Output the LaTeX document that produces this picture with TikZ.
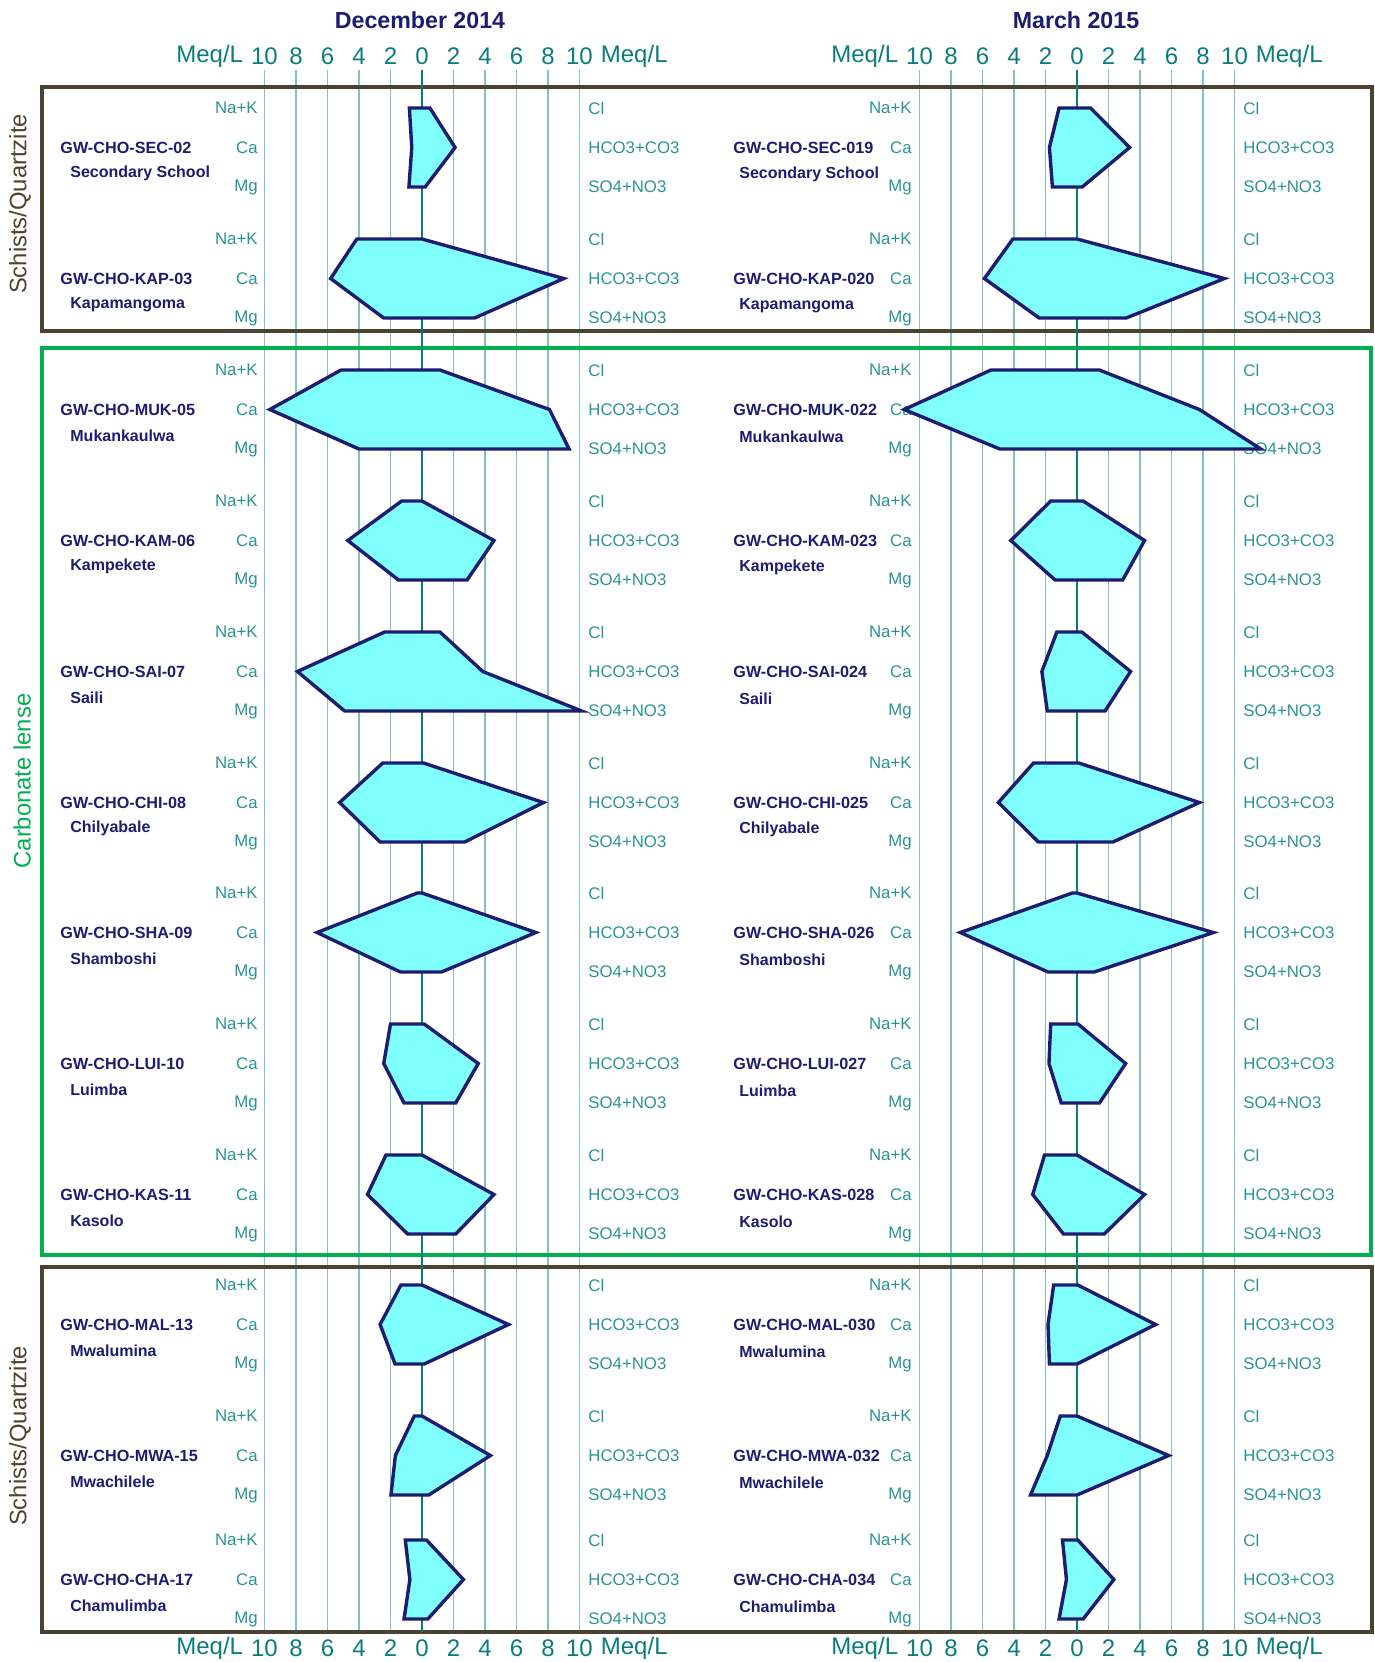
\documentclass[tikz,border=0pt]{standalone}
\usepackage{fontspec}
\setmainfont{Liberation Sans}
\usetikzlibrary{positioning}
\definecolor{stiffnavy}{HTML}{1C1C73}
\definecolor{stiffcyan}{HTML}{80FFFF}
\definecolor{stiffgrid}{HTML}{84C2C2}
\definecolor{stiffaxis}{HTML}{0A7C7C}
\definecolor{stiffteal}{HTML}{2A9494}
\definecolor{stiffbrown}{HTML}{4B4232}
\definecolor{stiffgreen}{HTML}{00B050}

\begin{document}
\begin{tikzpicture}[
    x=0.5pt, y=-0.5pt,
    gridline/.style={draw=stiffgrid, line width=0.6pt},
    zeroline/.style={draw=stiffaxis, line width=1.4pt},
    unitbox/.style={draw=stiffbrown, line width=2pt},
    lensebox/.style={draw=stiffgreen, line width=1.6pt},
    ion/.style={text=stiffteal, font=\fontsize{8.4}{10}\selectfont, inner sep=0pt},
    scalenum/.style={text=stiffaxis, font=\fontsize{12}{14}\selectfont, inner sep=0pt},
    wellid/.style={text=stiffnavy, font=\bfseries\fontsize{8.1}{10}\selectfont, anchor=west, inner sep=0pt},
    sitename/.style={text=stiffnavy, font=\bfseries\fontsize{8}{10}\selectfont, anchor=west, inner sep=0pt},
    charttitle/.style={text=stiffnavy, font=\bfseries\fontsize{11.6}{14}\selectfont},
    unitlabel/.style={rotate=90, font=\fontsize{11.9}{14}\selectfont, inner sep=0pt},
    stiffpoly/.style={draw=stiffnavy, fill=stiffcyan, line width=1.7pt, line join=miter}
]
\useasboundingbox (0,0) rectangle (1375,1662);

% grid of both charts
\foreach \cx in {422,1077} {
  \foreach \k in {-5,...,5}
    \draw[gridline] ({\cx+\k*31.5},70) -- ({\cx+\k*31.5},1632);
}

% rock units
\draw[unitbox] (42,87) rectangle (1372,331);
\draw[lensebox] (42,348) rectangle (1371,1255);
\draw[unitbox] (42,1267) rectangle (1372,1632);

\draw[zeroline] (422,70) -- (422,1632);
\draw[zeroline] (1077,70) -- (1077,1632);

\node[unitlabel, text=stiffbrown] (schists-top) at (20,204) {Schists/Quartzite};
\node[unitlabel, text=stiffgreen] (lense) at (22,781) {Carbonate lense};
\node[unitlabel, text=stiffbrown] (schists-bot) at (20,1436) {Schists/Quartzite};

% titles and scales
\node[charttitle] (dec-title) at (420,20) {December 2014};
\node[charttitle] (mar-title) at (1076,20) {March 2015};
\foreach \cx/\ch in {422/dec,1077/mar} {
  \foreach \ys/\pos in {56/top,1648/bot} {
    \foreach \v [count=\k from 0] in {10,8,6,4,2,0,2,4,6,8,10}
      \node[scalenum] (\ch-\pos-\k) at ({\cx+(\k-5)*31.5},\ys) {\v};
    \node[scalenum, anchor=east] (\ch-\pos-ul) at ({\cx-178.5},\ys) {Meq/L};
    \node[scalenum, anchor=west] (\ch-\pos-ur) at ({\cx+178.5},\ys) {Meq/L};
  }
}

% December 2014
\foreach \y/\nk/\ca/\mg/\cl/\hc/\so/\wid/\wsite [count=\i] in {
    108/0.8/0.65/0.83/0.5/2.1/0.2/GW-CHO-SEC-02/Secondary School,
    239/4.14/5.8/2.43/0/9.0/3.34/GW-CHO-KAP-03/Kapamangoma,
    370/5.14/9.66/4.0/1.14/8.09/9.34/GW-CHO-MUK-05/Mukankaulwa,
    501/1.29/4.71/1.49/0/4.57/2.86/GW-CHO-KAM-06/Kampekete,
    632/2.37/7.91/4.91/1.14/3.86/10.14/GW-CHO-SAI-07/Saili,
    763/2.49/5.23/2.66/0.09/7.71/2.71/GW-CHO-CHI-08/Chilyabale,
    893/0.3/6.66/1.37/0/7.23/1.23/GW-CHO-SHA-09/Shamboshi,
    1024/2.0/2.43/1.14/0.14/3.57/2.14/GW-CHO-LUI-10/Luimba,
    1155/2.29/3.46/0.91/0/4.57/2.14/GW-CHO-KAS-11/Kasolo,
    1285/1.34/2.66/1.71/0/5.49/0.14/GW-CHO-MAL-13/Mwalumina,
    1416/0.49/1.69/1.97/0/4.34/0.43/GW-CHO-MWA-15/Mwachilele,
    1540/1.06/0.77/1.14/0.29/2.63/0.37/GW-CHO-CHA-17/Chamulimba} {
  \node[ion, anchor=east] (dec-nk-\i) at (258,\y) {Na+K};
  \node[ion, anchor=east] (dec-ca-\i) at (258,{\y+39.5}) {Ca};
  \node[ion, anchor=east] (dec-mg-\i) at (258,{\y+79}) {Mg};
  \node[ion, anchor=west] (dec-cl-\i) at (588,\y) {Cl};
  \node[ion, anchor=west] (dec-hc-\i) at (588,{\y+39.5}) {HCO3+CO3};
  \node[ion, anchor=west] (dec-so-\i) at (588,{\y+79}) {SO4+NO3};
  \node[wellid] (dec-id-\i) at (60,{\y+39.5}) {\wid};
  \node[sitename] (dec-site-\i) at (70,{\y+65.5}) {\wsite};
  \draw[stiffpoly] ({422-\nk*15.75},\y) -- ({422-\ca*15.75},{\y+39.5})
    -- ({422-\mg*15.75},{\y+79}) -- ({422+\so*15.75},{\y+79})
    -- ({422+\hc*15.75},{\y+39.5}) -- ({422+\cl*15.75},\y) -- cycle;
}

% March 2015
\foreach \y/\nk/\ca/\mg/\cl/\hc/\so/\wid/\wsite [count=\i] in {
    108/1.14/1.75/1.56/0.86/3.34/0.33/GW-CHO-SEC-019/Secondary School,
    239/4.07/5.88/2.4/0/9.36/3.12/GW-CHO-KAP-020/Kapamangoma,
    370/5.46/10.97/4.9/1.42/7.77/11.67/GW-CHO-MUK-022/Mukankaulwa,
    501/1.67/4.2/1.39/0.39/4.29/2.9/GW-CHO-KAM-023/Kampekete,
    632/1.28/2.23/1.89/0.31/3.4/1.78/GW-CHO-SAI-024/Saili,
    763/2.76/4.99/2.45/0.11/7.77/2.28/GW-CHO-CHI-025/Chilyabale,
    893/0.3/7.41/1.84/0/8.66/1.09/GW-CHO-SHA-026/Shamboshi,
    1024/1.67/1.78/1.0/0.06/3.09/1.42/GW-CHO-LUI-027/Luimba,
    1155/2.06/2.81/0.86/0/4.29/1.73/GW-CHO-KAS-028/Kasolo,
    1285/1.48/1.84/1.75/0.05/4.99/0/GW-CHO-MAL-030/Mwalumina,
    1416/1.06/1.89/2.95/0/5.82/0/GW-CHO-MWA-032/Mwachilele,
    1540/0.92/0.67/1.14/0.05/2.34/0.39/GW-CHO-CHA-034/Chamulimba} {
  \node[ion, anchor=east] (mar-nk-\i) at (912,\y) {Na+K};
  \node[ion, anchor=east] (mar-ca-\i) at (912,{\y+39.5}) {Ca};
  \node[ion, anchor=east] (mar-mg-\i) at (912,{\y+79}) {Mg};
  \node[ion, anchor=west] (mar-cl-\i) at (1243,\y) {Cl};
  \node[ion, anchor=west] (mar-hc-\i) at (1243,{\y+39.5}) {HCO3+CO3};
  \node[ion, anchor=west] (mar-so-\i) at (1243,{\y+79}) {SO4+NO3};
  \node[wellid] (mar-id-\i) at (733,{\y+39.5}) {\wid};
  \node[sitename] (mar-site-\i) at (739,{\y+66.5}) {\wsite};
  \draw[stiffpoly] ({1077-\nk*15.75},\y) -- ({1077-\ca*15.75},{\y+39.5})
    -- ({1077-\mg*15.75},{\y+79}) -- ({1077+\so*15.75},{\y+79})
    -- ({1077+\hc*15.75},{\y+39.5}) -- ({1077+\cl*15.75},\y) -- cycle;
}
\end{tikzpicture}
\end{document}
